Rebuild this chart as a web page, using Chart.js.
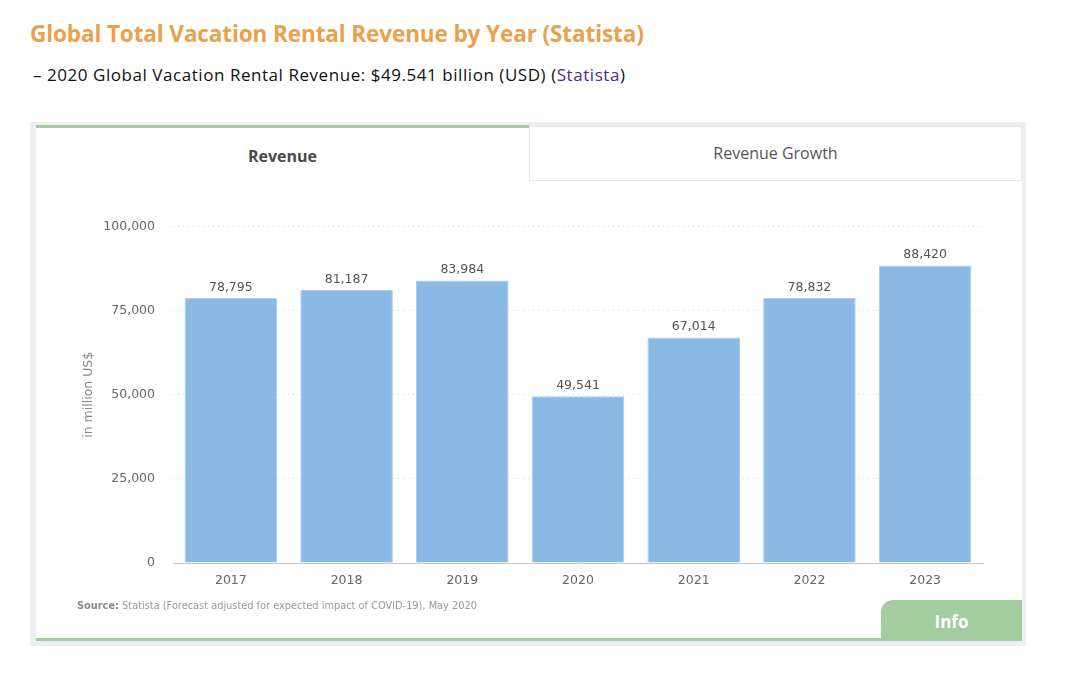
<!DOCTYPE html>
<html>
<head>
<meta charset="utf-8">
<script src="https://cdn.jsdelivr.net/npm/chart.js@4"></script>
<style>
  html,body{margin:0;padding:0;background:#fff;width:1070px;height:690px;overflow:hidden;}
  #title{position:absolute;left:30px;top:18px;font-family:"Open Sans",sans-serif;font-weight:700;font-size:22.5px;color:#eba04c;white-space:nowrap;letter-spacing:-0.1px;}
  #sub{position:absolute;left:33px;top:63px;font-family:"Open Sans",sans-serif;font-size:17px;color:#111;white-space:nowrap;letter-spacing:0.55px;}
  #sub a{color:#4b2a8c;text-decoration:none;}
  #frame{position:absolute;left:30px;top:122px;width:996px;height:524px;background:#edf0f3;}
  #card{position:absolute;left:36px;top:128px;width:986px;height:513px;background:#fff;border-bottom:3px solid #a3cc9f;box-sizing:border-box;}
  #tab1{position:absolute;left:36px;top:125px;width:493px;height:56px;background:#fff;border-top:3px solid #a3cc9f;box-sizing:border-box;font-family:"Open Sans",sans-serif;font-weight:700;font-size:16px;color:#4a4a4a;text-align:center;line-height:56px;}
  #tab2{position:absolute;left:529px;top:126px;width:493px;height:55px;background:#fff;border:1px solid #e6e9ec;box-sizing:border-box;font-family:"Open Sans",sans-serif;font-size:16px;color:#555;text-align:center;line-height:52px;}
  #wrap{position:absolute;left:36px;top:201px;width:986px;height:420px;}
  #src{position:absolute;left:77px;top:600px;font-family:"DejaVu Sans",sans-serif;font-size:9.8px;color:#999;white-space:nowrap;}
  #src b{color:#8a8a8a;}
  #info{position:absolute;left:881px;top:600px;width:141px;height:41px;background:#a3cc9f;border-top-left-radius:12px;border-bottom-right-radius:3px;font-family:"Open Sans",sans-serif;font-weight:700;font-size:17px;color:#fff;text-align:center;line-height:43px;}
</style>
</head>
<body>
<div id="title">Global Total Vacation Rental Revenue by Year (Statista)</div>
<div id="sub">– 2020 Global Vacation Rental Revenue: $49.541 billion (USD) (<a>Statista</a>)</div>
<div id="frame"></div>
<div id="card"></div>
<div id="tab1">Revenue</div>
<div id="tab2">Revenue Growth</div>
<div id="wrap"><canvas id="c" width="986" height="420"></canvas></div>
<div id="src"><b>Source:</b> Statista (Forecast adjusted for expected impact of COVID-19), May 2020</div>
<div id="info">Info</div>
<script>
const years = ["2017","2018","2019","2020","2021","2022","2023"];
const revenue = [78795, 81187, 83984, 49541, 67014, 78832, 88420];
const yTicks = [0, 25000, 50000, 75000, 100000];
const yTitle = "in million US$";

const fmt = v => v.toLocaleString("en-US");

const valueLabels = {
  id: "valueLabels",
  afterDatasetsDraw(chart) {
    const ctx = chart.ctx;
    const meta = chart.getDatasetMeta(0);
    ctx.save();
    ctx.font = "12.5px 'DejaVu Sans'";
    ctx.fillStyle = "#555";
    ctx.textAlign = "center";
    ctx.textBaseline = "bottom";
    meta.data.forEach((bar, i) => {
      ctx.fillText(fmt(revenue[i]), bar.x, bar.y - 4);
    });
    ctx.restore();
  }
};
const yTitlePlugin = {
  id: "yTitlePlugin",
  afterDraw(chart) {
    const ctx = chart.ctx;
    const a = chart.chartArea;
    ctx.save();
    ctx.translate(53, (a.top + a.bottom) / 2);
    ctx.rotate(-Math.PI / 2);
    ctx.font = "12.5px 'DejaVu Sans'";
    ctx.fillStyle = "#888";
    ctx.textAlign = "center";
    ctx.textBaseline = "middle";
    ctx.fillText(yTitle, 0, 0);
    ctx.restore();
  }
};

new Chart(document.getElementById("c"), {
  type: "bar",
  data: {
    labels: years,
    datasets: [{
      data: revenue,
      backgroundColor: "#8ab9e6",
      borderColor: "#a9ccef",
      borderWidth: 1,
      barPercentage: 0.8,
      categoryPercentage: 1.0
    }]
  },
  options: {
    responsive: false,
    animation: false,
    devicePixelRatio: 1,
    layout: { padding: { top: 25, right: 39, bottom: 0, left: 0 } },
    plugins: { legend: { display: false }, tooltip: { enabled: false } },
    scales: {
      x: {
        grid: { display: false, drawTicks: false },
        border: { display: true, color: "#c8c8c8", width: 1 },
        ticks: { color: "#666", font: { family: "DejaVu Sans", size: 12.5 }, padding: 10 },
        afterFit(s) { s.height = 58; }
      },
      y: {
        min: 0, max: 100000,
        afterBuildTicks(s) { s.ticks = yTicks.map(v => ({ value: v })); },
        grid: {
          drawTicks: false,
          color: ctx => ctx.tick && ctx.tick.value === 0 ? "rgba(0,0,0,0)" : "#dcdcdc",
          lineWidth: 1
        },
        border: { display: false, dash: [1, 4] },
        ticks: {
          color: "#666", font: { family: "DejaVu Sans", size: 12.5 }, padding: 18,
          callback: v => fmt(v)
        },
        afterFit(s) { s.width = 137; }
      }
    }
  },
  plugins: [valueLabels, yTitlePlugin]
});
</script>
</body>
</html>
